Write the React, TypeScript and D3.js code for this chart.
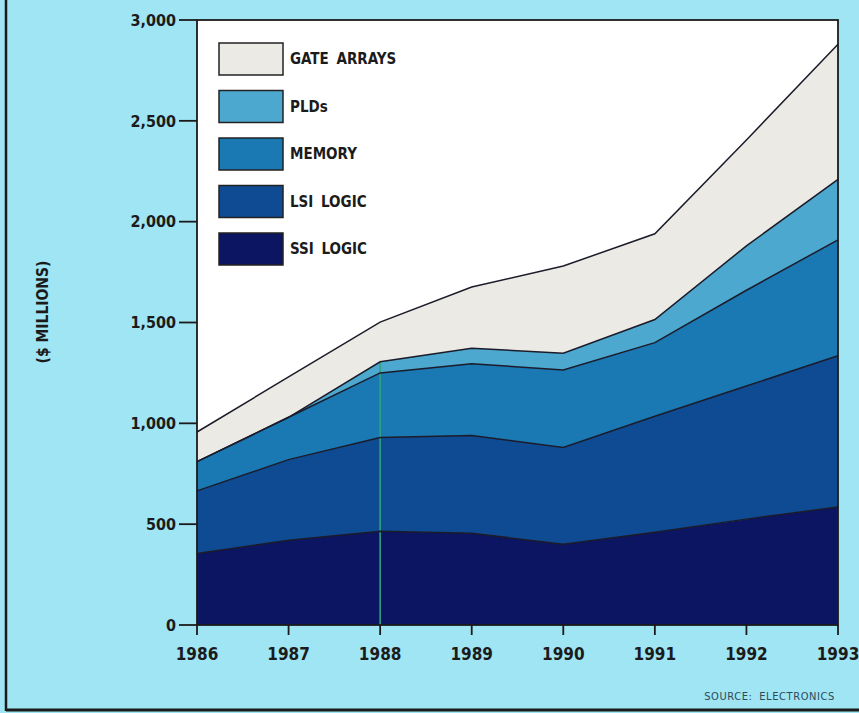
import React from "react";
import * as d3 from "d3";

// Semiconductor market by segment, $ millions (stacked)
const years = [1986, 1987, 1988, 1989, 1990, 1991, 1992, 1993];
const ssiLogic = [355, 420, 465, 455, 400, 460, 525, 585];
const lsiLogic = [310, 400, 465, 485, 480, 575, 660, 750];
const memory = [145, 210, 320, 355, 385, 365, 475, 575];
const plds = [0, 0, 55, 77, 83, 115, 220, 300];
const gateArrays = [147, 200, 197, 304, 432, 425, 525, 670];

const seriesKeys = ["SSI LOGIC", "LSI LOGIC", "MEMORY", "PLDs", "GATE ARRAYS"];
const seriesValues = [ssiLogic, lsiLogic, memory, plds, gateArrays];
const seriesColors = ["#0b1561", "#0f4b93", "#1a78b2", "#4ca8cf", "#eceae4"];
const legendOrder = ["GATE ARRAYS", "PLDs", "MEMORY", "LSI LOGIC", "SSI LOGIC"];
const yTicks = [0, 500, 1000, 1500, 2000, 2500, 3000];

const W = 859;
const H = 713;
const left = 197;
const right = 838;
const top = 20;
const bottom = 625;

const FONT = "'DejaVu Sans Condensed', 'DejaVu Sans', sans-serif";

export default function App() {
  const x = d3.scaleLinear().domain([1986, 1993]).range([left, right]);
  const y = d3.scaleLinear().domain([0, 3000]).range([bottom, top]);

  const table = years.map((yr, i) => {
    const row: Record<string, number> = { year: yr };
    seriesKeys.forEach((k, j) => (row[k] = seriesValues[j][i]));
    return row;
  });
  const stacked = d3.stack<Record<string, number>>().keys(seriesKeys)(table);

  const area = d3
    .area<d3.SeriesPoint<Record<string, number>>>()
    .x((d) => x(d.data.year))
    .y0((d) => y(d[0]))
    .y1((d) => y(d[1]));
  const topLine = d3
    .line<d3.SeriesPoint<Record<string, number>>>()
    .x((d) => x(d.data.year))
    .y((d) => y(d[1]));

  const colorOf = (k: string) => seriesColors[seriesKeys.indexOf(k)];
  const i1988 = years.indexOf(1988);
  const pldTop1988 = stacked[3][i1988][1];

  return (
    <svg
      width={W}
      height={H}
      style={{ position: "absolute", left: 0, top: 0, display: "block" }}
    >
      <rect x={0} y={0} width={W} height={H} fill="#a0e5f3" />
      {/* outer frame edges */}
      <line x1={6} y1={0} x2={6} y2={711} stroke="#1a1a1a" strokeWidth={2.5} />
      <line x1={6} y1={710} x2={W} y2={710} stroke="#1a1a1a" strokeWidth={3} />

      {/* plot panel */}
      <rect x={left} y={top} width={right - left} height={bottom - top} fill="#ffffff" />

      {stacked.map((s) => (
        <path key={s.key} d={area(s) || ""} fill={colorOf(s.key)} />
      ))}
      {/* green registration line at 1988 */}
      <line
        x1={x(1988)}
        x2={x(1988)}
        y1={y(pldTop1988)}
        y2={bottom}
        stroke="#2fa27f"
        strokeWidth={1.6}
      />
      {stacked.map((s) => (
        <path
          key={s.key + "-l"}
          d={topLine(s) || ""}
          fill="none"
          stroke="#1b1b2a"
          strokeWidth={1.5}
        />
      ))}

      {/* panel border */}
      <rect
        x={left}
        y={top}
        width={right - left}
        height={bottom - top}
        fill="none"
        stroke="#1b1b1b"
        strokeWidth={1.8}
      />

      {/* y axis */}
      {yTicks.map((t) => (
        <g key={t}>
          <line x1={left - 18} x2={left} y1={y(t)} y2={y(t)} stroke="#1b1b1b" strokeWidth={1.8} />
          <text
            x={left - 21}
            y={y(t)}
            dy="0.36em"
            textAnchor="end"
            fontFamily={FONT}
            fontWeight={700}
            fontSize={16}
            fill="#1b1b1b"
          >
            {d3.format(",")(t)}
          </text>
        </g>
      ))}
      <text
        transform={`translate(43, ${312}) rotate(-90)`}
        textAnchor="middle"
        dy="0.35em"
        fontFamily={FONT}
        fontWeight={700}
        fontSize={15.5}
        fill="#1b1b1b"
      >
        ($ MILLIONS)
      </text>

      {/* x axis */}
      {years.map((yr) => (
        <g key={yr}>
          <line x1={x(yr)} x2={x(yr)} y1={bottom} y2={bottom + 10} stroke="#1b1b1b" strokeWidth={1.8} />
          <text
            x={x(yr)}
            y={660}
            textAnchor="middle"
            fontFamily={FONT}
            fontWeight={700}
            fontSize={17}
            fill="#1b1b1b"
          >
            {yr}
          </text>
        </g>
      ))}

      {/* legend */}
      {legendOrder.map((k, i) => {
        const ly = 43 + i * 47.5;
        return (
          <g key={k}>
            <rect
              x={219}
              y={ly}
              width={64}
              height={32}
              fill={colorOf(k)}
              stroke="#222"
              strokeWidth={1.5}
            />
            <text
              x={290}
              y={ly + 16}
              dy="0.36em"
              fontFamily={FONT}
              fontWeight={700}
              fontSize={15}
              fill="#1b1b1b"
              style={{ wordSpacing: "3px" }}
            >
              {k}
            </text>
          </g>
        );
      })}

      <text
        x={835}
        y={700}
        textAnchor="end"
        fontFamily={FONT}
        fontSize={11}
        fill="#2a4a5a"
        style={{ letterSpacing: "0.6px", wordSpacing: "3px" }}
      >
        SOURCE: ELECTRONICS
      </text>
    </svg>
  );
}
